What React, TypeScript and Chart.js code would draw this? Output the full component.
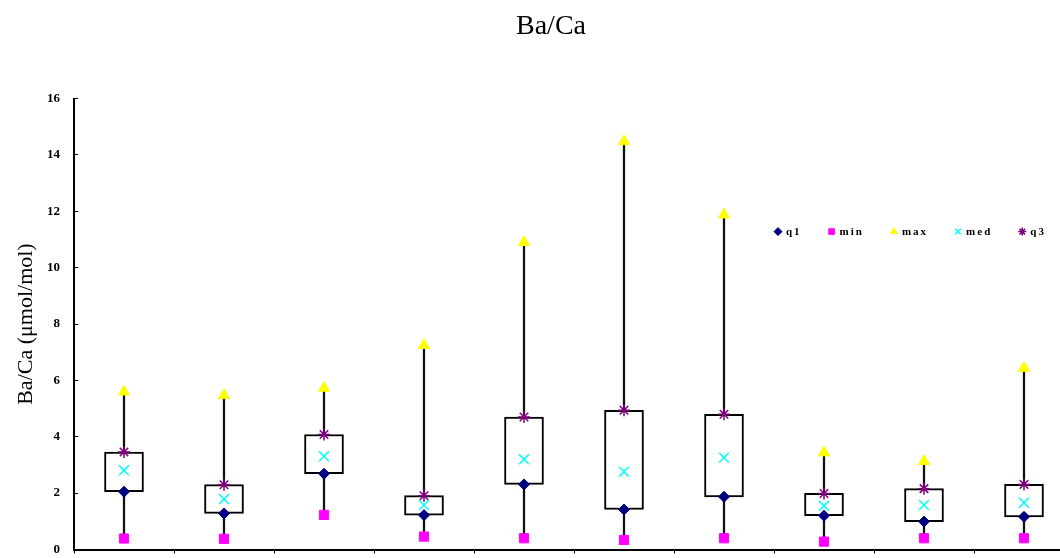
import React, { useEffect, useRef } from "react";
import { Chart, registerables } from "chart.js";
import { drawPoint } from "chart.js/helpers";

Chart.register(...registerables);

// ---- data ----
const categories = ["1", "2", "3", "4", "5", "6", "7", "8", "9", "10"];
const minValues = [0.39, 0.38, 1.23, 0.46, 0.40, 0.34, 0.40, 0.28, 0.40, 0.40];
const q1Values = [2.05, 1.28, 2.69, 1.22, 2.31, 1.42, 1.87, 1.20, 0.99, 1.16];
const medValues = [2.81, 1.79, 3.31, 1.58, 3.20, 2.76, 3.26, 1.55, 1.58, 1.66];
const q3Values = [3.46, 2.30, 4.08, 1.91, 4.70, 4.94, 4.80, 1.99, 2.16, 2.31];
const maxValues = [5.60, 5.47, 5.73, 7.25, 10.90, 14.48, 11.88, 3.44, 3.13, 6.44];
const yTickValues = [0, 2, 4, 6, 8, 10, 12, 14, 16];
const legendLabels = ["q1", "min", "max", "med", "q3"];
const titleText = "Ba/Ca";
const yAxisTitle = "Ba/Ca (μmol/mol)";

const SERIF = "'Liberation Serif', 'Times New Roman', serif";

const insideLegend = {
  id: "insideLegend",
  afterDraw(chart: any) {
    const { ctx, chartArea } = chart;
    ctx.save();
    ctx.font = `bold 11px ${SERIF}`;
    try { (ctx as any).letterSpacing = "2px"; } catch (e) {}
    ctx.textBaseline = "middle";
    ctx.textAlign = "left";
    let x = chartArea.left + 704;
    const y = chartArea.top + 133;
    chart.data.datasets.forEach((ds: any) => {
      if (!legendLabels.includes(ds.label)) return;
      ctx.save();
      ctx.fillStyle = ds.backgroundColor;
      ctx.strokeStyle = ds.borderColor;
      ctx.lineWidth = ds.borderWidth || 1;
      drawPoint(ctx, { pointStyle: ds.pointStyle, rotation: 0, radius: 4, borderWidth: ds.borderWidth || 1 } as any, x, y);
      ctx.restore();
      ctx.fillStyle = "#000";
      ctx.fillText(ds.label, x + 8, y + 1);
      const w = ctx.measureText(ds.label).width;
      x += 8 + w + 30;
    });
    ctx.restore();
  },
};

export default function App() {
  const canvasRef = useRef<HTMLCanvasElement | null>(null);

  useEffect(() => {
    if (!canvasRef.current) return;
    const navy = "#000080";
    const magenta = "#FF00FF";
    const yellow = "#FFFF00";
    const cyan = "#00FFFF";
    const purple = "#800080";
    const chart = new Chart(canvasRef.current, {
      type: "bar",
      data: {
        labels: categories,
        datasets: [
          {
            type: "line", label: "q1", data: q1Values, showLine: false,
            pointStyle: "rectRot", pointRadius: 5.5, backgroundColor: navy, borderColor: navy, borderWidth: 1, order: 1,
          },
          {
            type: "line", label: "min", data: minValues, showLine: false,
            pointStyle: "rect", pointRadius: 6.5, backgroundColor: magenta, borderColor: magenta, borderWidth: 1, order: 2,
          },
          {
            type: "line", label: "max", data: maxValues, showLine: false,
            pointStyle: "triangle", pointRadius: 6.5, backgroundColor: yellow, borderColor: yellow, borderWidth: 1, order: 3,
          },
          {
            type: "line", label: "med", data: medValues, showLine: false,
            pointStyle: "crossRot", pointRadius: 7, backgroundColor: cyan, borderColor: cyan, borderWidth: 1.5, order: 4,
          },
          {
            type: "line", label: "q3", data: q3Values, showLine: false,
            pointStyle: "star", pointRadius: 6, backgroundColor: purple, borderColor: purple, borderWidth: 1.5, order: 5,
          },
          {
            type: "bar", label: "box", data: q1Values.map((v, i) => [v, q3Values[i]]) as any,
            backgroundColor: "#FFFFFF", borderColor: "#000000", borderWidth: 2, borderSkipped: false,
            barThickness: 39, grouped: false, order: 6,
          },
          {
            type: "bar", label: "whisker", data: minValues.map((v, i) => [v, maxValues[i]]) as any,
            backgroundColor: "#111111", borderWidth: 0, barThickness: 1.6, grouped: false, order: 7,
          },
        ] as any,
      },
      options: {
        animation: false,
        responsive: true,
        maintainAspectRatio: false,
        devicePixelRatio: 1,
        layout: { padding: { left: 28, right: 22, top: 0, bottom: 0 } },
        plugins: {
          legend: { display: false },
          tooltip: { enabled: false },
          title: {
            display: true,
            text: titleText,
            color: "#000",
            font: { family: SERIF, size: 28, weight: "normal" as any },
            padding: { top: 10, bottom: 55 },
          },
        },
        scales: {
          x: {
            type: "category",
            offset: true,
            grid: { display: true, drawOnChartArea: false, drawTicks: true, tickLength: 4, color: "#000", lineWidth: 1, offset: true },
            border: { display: true, color: "#000", width: 2 },
            ticks: { display: false },
            afterFit: (s: any) => { s.height = 5; s.paddingLeft = 0; s.paddingRight = 0; },
          },
          y: {
            min: 0,
            max: 16,
            afterBuildTicks: (s: any) => { s.ticks = yTickValues.map((v) => ({ value: v })); },
            grid: { drawOnChartArea: false, drawTicks: true, tickLength: -4, color: "#000", lineWidth: 1 },
            border: { display: true, color: "#000", width: 2 },
            ticks: { color: "#000", font: { family: SERIF, size: 13, weight: "bold" as any }, padding: 18 },
            title: {
              display: true,
              text: yAxisTitle,
              color: "#000",
              font: { family: SERIF, size: 22 },
              padding: { top: -15, bottom: 0 },
            },
            afterFit: (s: any) => { s.width = 46; s.paddingTop = 0; s.paddingBottom = 0; },
          },
        } as any,
      },
      plugins: [insideLegend],
    });
    return () => chart.destroy();
  }, []);

  return (
    <div style={{ position: "fixed", left: 0, top: 0, width: 1060, height: 558, overflow: "hidden", background: "#fff" }}>
      <div style={{ position: "relative", width: 1096, height: 558 }}>
        <canvas ref={canvasRef} />
      </div>
    </div>
  );
}
